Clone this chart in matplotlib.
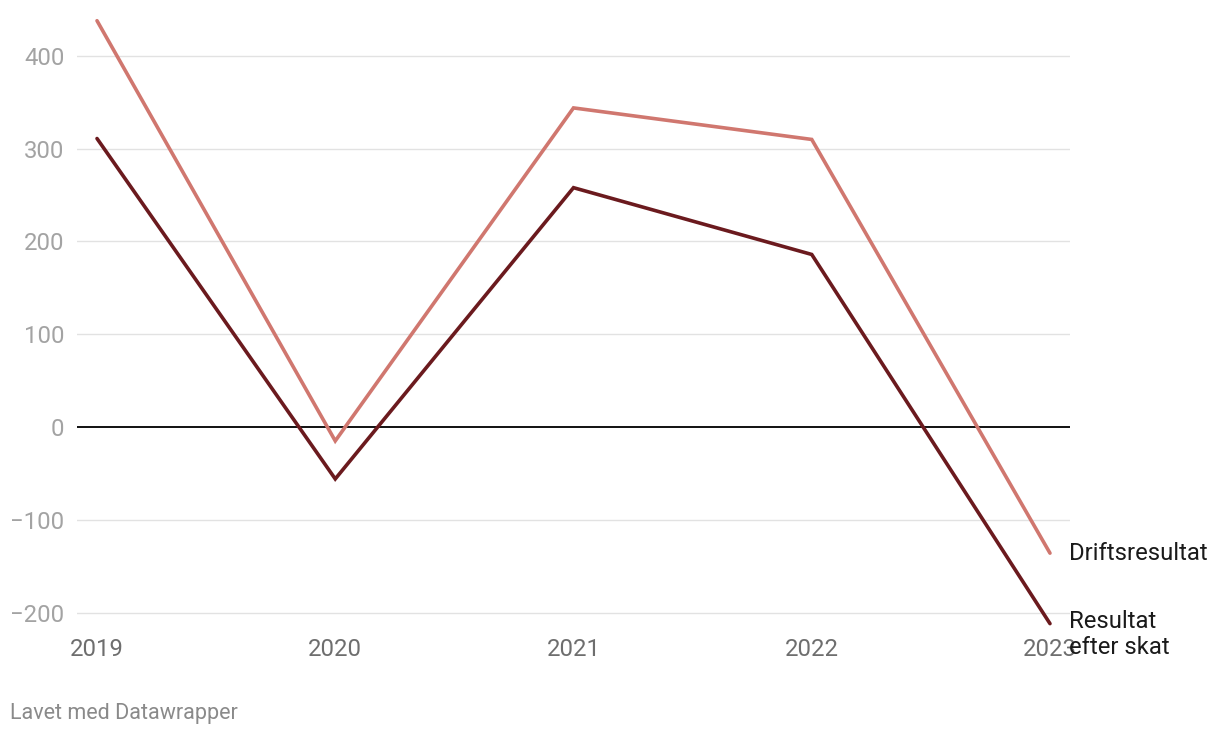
import matplotlib
matplotlib.use("Agg")
import matplotlib.pyplot as plt

plt.rcParams["font.family"] = ["Roboto", "DejaVu Sans"]

# Data
years = [2019, 2020, 2021, 2022, 2023]
driftsresultat = [438, -15, 344, 310, -136]
resultat_efter_skat = [311, -56, 258, 186, -212]
y_ticks = [-200, -100, 0, 100, 200, 300, 400]

COL_DRIFT = "#d0776f"
COL_RES = "#6b1a1e"
FS = 17.2

fig = plt.figure(figsize=(12.2, 7.38), dpi=100)
ax = fig.add_axes([77 / 1220, 0.1512, (1070 - 77) / 1220, 0.8358])

ax.set_xlim(2018.916, 2023.084)
ax.set_ylim(-215, 450)

# gridlines
for t in y_ticks:
    if t == 0:
        ax.axhline(t, color="#111111", linewidth=1.4, zorder=2)
    else:
        ax.axhline(t, color="#e2e2e2", linewidth=1.0, zorder=1)

ax.plot(years, driftsresultat, color=COL_DRIFT, linewidth=2.6, zorder=3,
        solid_capstyle="round", solid_joinstyle="miter")
ax.plot(years, resultat_efter_skat, color=COL_RES, linewidth=2.6, zorder=4,
        solid_capstyle="round", solid_joinstyle="miter")

# end labels
ax.annotate("Driftsresultat", xy=(years[-1], driftsresultat[-1]),
            xytext=(14, 0), textcoords="offset points", va="center", ha="left",
            fontsize=FS, color="#1a1a1a", annotation_clip=False)
ax.annotate("Resultat\nefter skat", xy=(years[-1], resultat_efter_skat[-1]),
            xytext=(14, 10), textcoords="offset points", va="top", ha="left",
            fontsize=FS, color="#1a1a1a", linespacing=1.2,
            annotation_clip=False)

ax.set_yticks(y_ticks)
ax.set_yticklabels([f"{t}".replace("-", "\u2212") for t in y_ticks])
ax.set_xticks(years)
ax.set_xticklabels([str(y) for y in years])

ax.tick_params(axis="y", length=0, pad=9, labelsize=FS, labelcolor="#a3a3a3")
ax.tick_params(axis="x", length=0, pad=8, labelsize=FS, labelcolor="#6e6e6e")

for s in ax.spines.values():
    s.set_visible(False)

fig.text(10 / 1220, 1 - 714 / 738, "Lavet med Datawrapper", fontsize=15.5,
         color="#8a8a8a", va="center", ha="left")

fig.savefig("out.png", dpi=100, facecolor="white")
